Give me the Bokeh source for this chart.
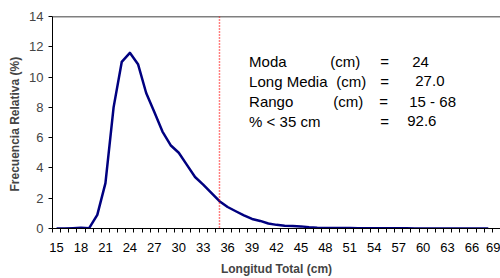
from bokeh.plotting import figure
from bokeh.models import FixedTicker, Span, Label, ColumnDataSource
from bokeh.embed import file_html
from bokeh.resources import INLINE

# ---- data ----
longitud = list(range(15, 69))
frecuencia = [0, 0, 0.02, 0.05, 0.02, 0.9, 3.0, 8.0, 11.0, 11.6, 10.85, 8.95, 7.7, 6.4,
              5.5, 5.0, 4.2, 3.4, 2.9, 2.35, 1.8, 1.42, 1.14, 0.87, 0.63, 0.5, 0.33,
              0.24, 0.18, 0.16, 0.14, 0.08, 0.05, 0.04, 0.04, 0.03, 0.03, 0.02, 0.01,
              0.01, 0.01, 0.01, 0.01, 0.01, 0.0, 0.0, 0.0, 0.0, 0.0, 0.0, 0.0, 0.0, 0.0, 0.0]
x_tick_labels = list(range(15, 70, 3))
y_ticks = [0, 2, 4, 6, 8, 10, 12, 14]
corte = 35
stat_names = ["Moda", "Long Media", "Rango", "% < 35 cm"]
stat_units = ["(cm)", "(cm)", "(cm)", ""]
stat_values = ["24", "27.0", "15 - 68", "92.6"]

FONT = "Liberation Sans"

p = figure(width=500, height=278, output_backend="svg", toolbar_location=None,
           x_range=(14.5, 69.5), y_range=(0, 14),
           min_border_left=52, min_border_right=0, min_border_top=16, min_border_bottom=49)
p.outline_line_color = None
p.grid.visible = False
p.background_fill_color = "white"

src = ColumnDataSource(dict(x=longitud, y=frecuencia))
p.line("x", "y", source=src, line_color="#000080", line_width=2.5, line_join="round")

# x axis
xa = p.xaxis[0]
xa.ticker = FixedTicker(ticks=x_tick_labels,
                        minor_ticks=[v - 0.5 for v in range(15, 71)])
xa.major_tick_line_color = None
xa.minor_tick_out = 4
xa.minor_tick_in = 0
xa.minor_tick_line_color = "black"
xa.axis_line_color = "black"
xa.major_label_text_font = FONT
xa.major_label_text_font_size = "13px"
xa.major_label_text_color = "black"
xa.major_label_standoff = 8
xa.axis_label = "Longitud Total (cm)"
xa.axis_label_text_font = FONT
xa.axis_label_text_font_size = "12px"
xa.axis_label_text_font_style = "bold"
xa.axis_label_standoff = 7

# y axis
ya = p.yaxis[0]
ya.ticker = FixedTicker(ticks=y_ticks)
ya.minor_tick_line_color = None
ya.major_tick_out = 4
ya.major_tick_in = 0
ya.major_label_text_font = FONT
ya.major_label_text_font_size = "13px"
ya.major_label_standoff = 5
ya.axis_label = "Frecuencia Relativa  (%)"
ya.axis_label_text_font = FONT
ya.axis_label_text_font_size = "12px"
ya.axis_label_text_font_style = "bold"
ya.axis_label_standoff = 4

# top border line
p.add_layout(Span(location=14, dimension="width", line_color="black", line_width=1.5))
# cut-off line
p.add_layout(Span(location=corte, dimension="height", line_color="#ff0000",
                  line_width=1.5, line_dash="1 2"))

# stats text block (positions in page px -> data)
def px2x(px):
    return 14.5 + (px - 52.6) / 8.137

def py2y(py):
    return (229 - py) / 15.24

row_py = [61, 81, 101, 121]
unit_px = [330, 336, 333, 0]
eq_px = [380, 380, 379, 380]
val_px = [412, 415, 409, 407]
for i in range(4):
    yy = py2y(row_py[i])
    p.add_layout(Label(x=px2x(249), y=yy, text=stat_names[i], text_font=FONT,
                       text_font_size="15px", text_baseline="middle", text_color="black"))
    if stat_units[i]:
        p.add_layout(Label(x=px2x(unit_px[i]), y=yy, text=stat_units[i], text_font=FONT,
                           text_font_size="15px", text_baseline="middle", text_color="black"))
    p.add_layout(Label(x=px2x(eq_px[i]), y=yy, text="=", text_font=FONT,
                       text_font_size="15px", text_baseline="middle", text_color="black"))
    p.add_layout(Label(x=px2x(val_px[i]), y=yy, text=stat_values[i], text_font=FONT,
                       text_font_size="15px", text_baseline="middle", text_color="black"))

open("out.html", "w").write(file_html(p, INLINE))
